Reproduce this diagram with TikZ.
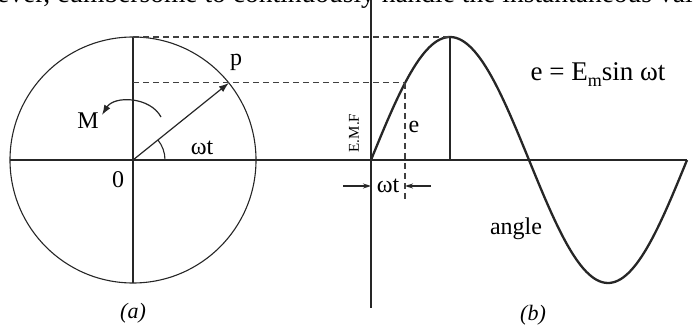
\documentclass[tikz,border=0pt]{standalone}
\usepackage{fontspec}
\setmainfont{Liberation Serif}
\usepackage{tikz}
\usetikzlibrary{arrows.meta, calc}
\tikzset{
    phasor/.style={font=\fontsize{24}{26}\selectfont},
    phasor axis/.style={line width=1.1pt, black!85},
    phasor circle/.style={line width=1.1pt, black!85},
    phasor wave/.style={line width=2.3pt, black!85},
    phasor dashed/.style={dashed, dash pattern=on 6pt off 4pt, line width=1.1pt, black!75},
    phasor arrow/.style={-{Latex[length=10pt, width=7pt]}, line width=1.2pt, black!85},
    phasor dim/.style={-{Stealth[length=8pt, width=5pt]}, line width=1.3pt, black!85},
    phasor label/.style={inner sep=1pt},
}

\begin{document}
\begin{tikzpicture}[phasor, x=1pt, y=1pt]
    \useasboundingbox (0,0) rectangle (693,327);
    \clip (0,0) rectangle (693,327);

    % Page text above the figure
    \node[anchor=base west, inner sep=0pt, font=\fontsize{27.5}{30}\selectfont] (pagetext) at (-3,324)
        {ever, cumbersome to continuously handle the instantaneous value};

    % Coordinates
    \coordinate (O) at (133,167);
    \coordinate (P) at ($(O)+(38.8:123)$);
    \coordinate (top) at ($(O)+(0,123)$);
    \coordinate (bottom) at ($(O)+(0,-123)$);
    \coordinate (left) at ($(O)+(-123,0)$);
    \coordinate (S) at (371,167);
    \coordinate (axisend) at (687,167);
    \coordinate (Stop) at (371,327);
    \coordinate (Sbot) at (371,19);
    \coordinate (peak) at (450,290);
    \coordinate (peakfoot) at (450,167);
    \coordinate (e) at (405,244.1);
    \coordinate (efoot) at (405,127);
    \coordinate (Mfrom) at (161,210);
    \coordinate (Mto) at (102,212);

    % Circle (a)
    \draw[phasor circle] (O) circle (123);
    \draw[phasor axis] (top) -- (bottom);
    \draw[phasor axis] (left) -- (axisend);
    \draw[phasor arrow] (O) -- (P);
    \draw[phasor axis] ($(O)+(32,0)$) arc (0:38.8:32);
    \draw[phasor arrow] (Mfrom) to[bend right=60] (Mto);

    % Wave (b)
    \draw[phasor axis] (Stop) -- (Sbot);
    \draw[phasor wave, domain=0:360, samples=120, shift={(S)}]
        plot ({\x*0.8778}, {123*sin(\x)});
    \draw[phasor axis] (peak) -- (peakfoot);

    % Dashed projections
    \draw[phasor dashed] (top) -- (peak);
    \draw[phasor dashed] ($(O)+(0,77.1)$) -- (e);
    \draw[phasor dashed] (e) -- (efoot);

    % omega t span
    \draw[phasor dim] (343,141) -- (S |- 0,141);
    \draw[phasor dim] (431,141) -- (e |- 0,141);

    % Labels
    \node[phasor label] (Mlabel) at (88,206) {M};
    \node[phasor label] (Olabel) at (118,147) {0};
    \node[phasor label] (Plabel) at (236,265) {p};
    \node[phasor label] (wta) at (202,179) {ωt};
    \node[phasor label] (wtb) at (388,141) {ωt};
    \node[phasor label] (elabel) at (414,200) {e};
    \node[phasor label, rotate=90, font=\fontsize{15}{17}\selectfont] (emf) at (354,194) {E.M.F};
    \node[phasor label, font=\fontsize{27}{29}\selectfont] (eq) at (598,252) {e = E\raisebox{-6pt}{\fontsize{18}{19}\selectfont m}sin ωt};
    \node[phasor label] (angle) at (516,98) {angle};
    \node[phasor label, font=\fontsize{22}{24}\itshape] (a) at (133,14) {(a)};
    \node[phasor label, font=\fontsize{22}{24}\itshape] (b) at (533,12) {(b)};

\end{tikzpicture}
\end{document}
